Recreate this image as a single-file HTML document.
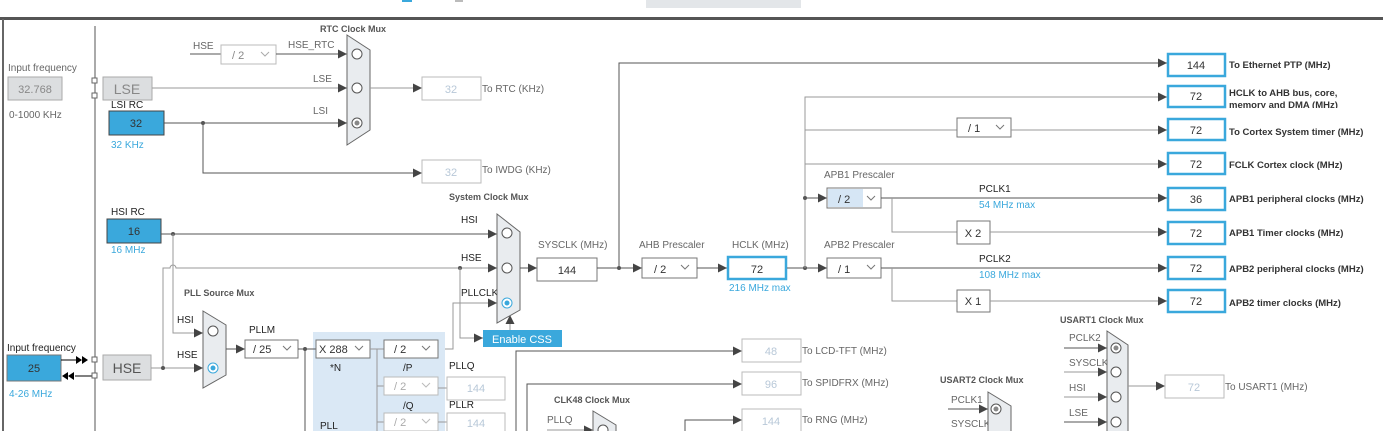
<!DOCTYPE html>
<html><head><meta charset="utf-8"><style>
html,body{margin:0;padding:0;background:#fff;width:1383px;height:431px;overflow:hidden}
svg{display:block}
text{font-family:"Liberation Sans",sans-serif;font-size:10px;fill:#666}
.b{font-weight:bold;fill:#555}
.k{fill:#222}
.bl{fill:#3aa8dc}
.lt{fill:#b8c8d8;font-size:11px}
.v{font-size:11px;fill:#333}
.o{font-weight:bold;fill:#333;font-size:9.5px}
.ln{stroke:#555;stroke-width:1;fill:none}
.gl{stroke:#999;stroke-width:1;fill:none}
.bx{fill:#fff;stroke:#777;stroke-width:1}
.lb{fill:#fff;stroke:#bbb;stroke-width:1}
.ob{fill:#fff;stroke:#3aa8dc;stroke-width:2.5}
.mx{fill:#e9ecef;stroke:#666;stroke-width:1}
.c{fill:#fff;stroke:#555;stroke-width:1}
</style></head><body>
<svg width="1383" height="431" viewBox="0 0 1383 431" xmlns="http://www.w3.org/2000/svg">
<defs>
<marker id="a" viewBox="0 0 10 10" refX="10" refY="5" markerWidth="9" markerHeight="9" markerUnits="userSpaceOnUse" orient="auto"><path d="M0,0L10,5L0,10z" fill="#444"/></marker>
</defs>
<rect x="646" y="0" width="155" height="8" fill="#e3e6e9"/>
<rect x="402" y="0" width="10" height="2" fill="#3aa8dc"/>
<rect x="455" y="0" width="8" height="2" fill="#bbb"/>
<rect x="0" y="17" width="1383" height="3" fill="#555"/>
<rect x="2" y="19" width="2" height="412" fill="#666"/>
<line x1="95" y1="26" x2="95" y2="431" class="ln"/>

<text x="8" y="71">Input frequency</text>
<rect x="8" y="77" width="54" height="23" fill="#dcdee0" stroke="#aaa"/>
<text x="35" y="93" text-anchor="middle" style="font-size:11px;fill:#888">32.768</text>
<text x="9" y="118">0-1000 KHz</text>
<rect x="92" y="78" width="5" height="5" fill="#fff" stroke="#666"/>
<rect x="92" y="93" width="5" height="5" fill="#fff" stroke="#666"/>
<rect x="103" y="77" width="49" height="23" fill="#dcdee0" stroke="#aaa"/>
<text x="127" y="94" text-anchor="middle" style="font-size:14px;fill:#888">LSE</text>
<text x="111" y="108" class="k">LSI RC</text>
<rect x="109" y="111" width="55" height="24" fill="#3aa8dc" stroke="#444"/>
<text x="136" y="127" text-anchor="middle" class="v">32</text>
<text x="111" y="148" class="bl">32 KHz</text>

<text x="320" y="32" class="b" style="font-size:9px">RTC Clock Mux</text>
<text x="193" y="49">HSE</text>
<line x1="190" y1="54" x2="221" y2="54" class="ln"/>
<rect x="221" y="45" width="55" height="19" class="lb"/>
<text x="232" y="59" style="font-size:11px;fill:#888">/ 2</text>
<path d="M261,52l4,4l4,-4" stroke="#aaa" fill="none"/>
<text x="288" y="48">HSE_RTC</text>
<line x1="276" y1="54" x2="347" y2="54" class="ln" marker-end="url(#a)"/>
<text x="313" y="82">LSE</text>
<line x1="152" y1="88" x2="347" y2="88" class="gl" marker-end="url(#a)"/>
<text x="313" y="114">LSI</text>
<line x1="164" y1="123" x2="347" y2="123" class="ln" marker-end="url(#a)"/>
<circle cx="203" cy="123" r="2" fill="#555"/>
<path d="M203,123V173H422" class="ln" marker-end="url(#a)"/>
<path d="M347,35L370,50V130L347,145Z" class="mx"/>
<circle cx="357" cy="54" r="5" class="c"/>
<circle cx="357" cy="88" r="5" class="c"/>
<circle cx="357" cy="123" r="5" class="c"/><circle cx="357" cy="123" r="2.5" fill="#888"/>
<line x1="370" y1="88" x2="422" y2="88" class="gl" marker-end="url(#a)"/>
<rect x="422" y="77" width="59" height="23" class="lb"/>
<text x="451" y="93" text-anchor="middle" class="lt">32</text>
<text x="482" y="92">To RTC (KHz)</text>
<rect x="422" y="160" width="59" height="23" class="lb"/>
<text x="451" y="176" text-anchor="middle" class="lt">32</text>
<text x="482" y="173">To IWDG (KHz)</text>

<text x="449" y="200" class="b" style="font-size:9px">System Clock Mux</text>
<text x="111" y="215" class="k">HSI RC</text>
<rect x="107" y="219" width="54" height="24" fill="#3aa8dc" stroke="#444"/>
<text x="134" y="235" text-anchor="middle" class="v">16</text>
<text x="111" y="253" class="bl">16 MHz</text>
<text x="461" y="223" class="k">HSI</text>
<line x1="161" y1="234" x2="497" y2="234" class="ln" marker-end="url(#a)"/>
<circle cx="173" cy="234" r="2" fill="#555"/>
<text x="461" y="261" class="k">HSE</text>
<path d="M163,368V268H170a3,3 0 0 1 6,0H497" class="gl" marker-end="url(#a)"/>
<circle cx="460" cy="268" r="2" fill="#555"/>
<path d="M173,234V333H203" class="gl" marker-end="url(#a)"/>
<text x="461" y="296" class="k">PLLCLK</text>
<path d="M438,349H453V303H497" class="gl" marker-end="url(#a)"/>
<path d="M460,268V338H483" class="gl" marker-end="url(#a)"/>
<rect x="483" y="330" width="79" height="17" fill="#3aa8dc"/>
<text x="522" y="343" text-anchor="middle" style="font-size:11px;fill:#fff">Enable CSS</text>
<line x1="510" y1="330" x2="510" y2="315" class="gl" marker-end="url(#a)"/>
<path d="M497,214L520,232V310L497,323Z" class="mx"/>
<circle cx="507" cy="233" r="5" class="c"/>
<circle cx="507" cy="268" r="5" class="c"/>
<circle cx="507" cy="303" r="5" style="fill:#fff;stroke:#3aa8dc"/><circle cx="507" cy="303" r="2.5" fill="#3aa8dc"/>
<line x1="520" y1="268" x2="537" y2="268" class="ln" marker-end="url(#a)"/>
<text x="538" y="248">SYSCLK (MHz)</text>
<rect x="537" y="258" width="60" height="23" class="bx"/>
<text x="567" y="274" text-anchor="middle" class="v">144</text>

<line x1="597" y1="268" x2="642" y2="268" class="ln" marker-end="url(#a)"/>
<circle cx="619" cy="268" r="2" fill="#555"/>
<path d="M619,268V63H1167" class="ln" marker-end="url(#a)"/>
<text x="639" y="248">AHB Prescaler</text>
<rect x="642" y="258" width="55" height="20" class="bx"/>
<text x="654" y="273" class="v">/ 2</text>
<path d="M681,265l4,4l4,-4" stroke="#777" fill="none"/>
<line x1="697" y1="268" x2="727" y2="268" class="ln" marker-end="url(#a)"/>
<text x="732" y="248">HCLK (MHz)</text>
<rect x="728" y="257" width="58" height="22" class="ob"/>
<text x="757" y="273" text-anchor="middle" class="v">72</text>
<text x="729" y="291" class="bl">216 MHz max</text>
<line x1="787" y1="268" x2="827" y2="268" class="ln" marker-end="url(#a)"/>
<circle cx="805" cy="268" r="2" fill="#555"/>
<path d="M805,268V97H1167" class="gl" marker-end="url(#a)"/>
<line x1="805" y1="130" x2="957" y2="130" class="gl"/>
<rect x="957" y="118" width="54" height="19" class="bx"/>
<text x="968" y="132" class="v">/ 1</text>
<path d="M996,125l4,4l4,-4" stroke="#777" fill="none"/>
<line x1="1011" y1="130" x2="1167" y2="130" class="gl" marker-end="url(#a)"/>
<line x1="805" y1="164" x2="1167" y2="164" class="gl" marker-end="url(#a)"/>
<line x1="805" y1="198" x2="827" y2="198" class="ln" marker-end="url(#a)"/>
<circle cx="805" cy="198" r="2" fill="#555"/>
<text x="824" y="178">APB1 Prescaler</text>
<rect x="827" y="188" width="54" height="20" class="bx"/>
<rect x="828" y="189" width="35" height="18" fill="#d6e6f5"/>
<text x="838" y="203" class="v">/ 2</text>
<path d="M867,196l4,4l4,-4" stroke="#777" fill="none"/>
<line x1="881" y1="198" x2="1167" y2="198" class="ln" marker-end="url(#a)"/>
<text x="979" y="192" class="k">PCLK1</text>
<text x="979" y="208" class="bl">54 MHz max</text>
<path d="M892,198V232H957" class="gl"/>
<rect x="957" y="221" width="33" height="23" class="bx"/>
<text x="973" y="237" text-anchor="middle" class="v">X 2</text>
<line x1="990" y1="232" x2="1167" y2="232" class="gl" marker-end="url(#a)"/>
<text x="824" y="248">APB2 Prescaler</text>
<rect x="827" y="258" width="54" height="20" class="bx"/>
<text x="838" y="273" class="v">/ 1</text>
<path d="M867,265l4,4l4,-4" stroke="#777" fill="none"/>
<line x1="881" y1="268" x2="1167" y2="268" class="ln" marker-end="url(#a)"/>
<text x="979" y="262" class="k">PCLK2</text>
<text x="979" y="278" class="bl">108 MHz max</text>
<path d="M892,268V301H957" class="gl"/>
<rect x="957" y="290" width="33" height="22" class="bx"/>
<text x="973" y="305" text-anchor="middle" class="v">X 1</text>
<line x1="990" y1="301" x2="1167" y2="301" class="gl" marker-end="url(#a)"/>

<g>
<rect x="1168" y="54" width="57" height="22" class="ob"/><text x="1196" y="69" text-anchor="middle" class="v">144</text><text x="1229" y="68" class="o">To Ethernet PTP (MHz)</text>
<rect x="1168" y="86" width="57" height="21" class="ob"/><text x="1196" y="100" text-anchor="middle" class="v">72</text><text x="1229" y="96" class="o">HCLK to AHB bus, core,</text>
<svg x="1229" y="100" width="150" height="8"><text x="0" y="8" class="o">memory and DMA (MHz)</text></svg>
<rect x="1168" y="119" width="57" height="21" class="ob"/><text x="1196" y="134" text-anchor="middle" class="v">72</text><text x="1229" y="135" class="o">To Cortex System timer (MHz)</text>
<rect x="1168" y="153" width="57" height="21" class="ob"/><text x="1196" y="168" text-anchor="middle" class="v">72</text><text x="1229" y="168" class="o">FCLK Cortex clock (MHz)</text>
<rect x="1168" y="188" width="57" height="22" class="ob"/><text x="1196" y="203" text-anchor="middle" class="v">36</text><text x="1229" y="202" class="o">APB1 peripheral clocks (MHz)</text>
<rect x="1168" y="222" width="57" height="22" class="ob"/><text x="1196" y="237" text-anchor="middle" class="v">72</text><text x="1229" y="236" class="o">APB1 Timer clocks (MHz)</text>
<rect x="1168" y="257" width="57" height="22" class="ob"/><text x="1196" y="272" text-anchor="middle" class="v">72</text><text x="1229" y="272" class="o">APB2 peripheral clocks (MHz)</text>
<rect x="1168" y="290" width="57" height="22" class="ob"/><text x="1196" y="305" text-anchor="middle" class="v">72</text><text x="1229" y="306" class="o">APB2 timer clocks (MHz)</text>
</g>

<text x="7" y="351" class="k">Input frequency</text>
<rect x="7" y="355" width="54" height="26" fill="#3aa8dc" stroke="#777"/>
<text x="34" y="372" text-anchor="middle" class="v">25</text>
<text x="9" y="397" class="bl">4-26 MHz</text>
<line x1="61" y1="360" x2="78" y2="360" stroke="#000"/>
<path d="M76,356l6,4l-6,4zM82,356l6,4l-6,4z" fill="#000"/>
<line x1="75" y1="376" x2="92" y2="376" stroke="#000"/>
<path d="M68,376l6,-4v8zM62,376l6,-4v8z" fill="#000"/>
<rect x="92" y="357" width="5" height="5" fill="#fff" stroke="#666"/>
<rect x="92" y="373" width="5" height="5" fill="#fff" stroke="#666"/>
<rect x="103" y="355" width="48" height="25" fill="#dcdee0" stroke="#aaa"/>
<text x="127" y="373" text-anchor="middle" style="font-size:14px;fill:#555">HSE</text>
<line x1="151" y1="368" x2="203" y2="368" class="gl" marker-end="url(#a)"/>
<circle cx="163" cy="368" r="2" fill="#555"/>
<text x="184" y="296" class="b" style="font-size:9px">PLL Source Mux</text>
<text x="177" y="323" class="k">HSI</text>
<text x="177" y="358" class="k">HSE</text>
<path d="M203,311L226,325V375L203,388Z" class="mx"/>
<circle cx="213" cy="331" r="5" class="c"/>
<circle cx="213" cy="368" r="5" style="fill:#fff;stroke:#3aa8dc"/><circle cx="213" cy="368" r="2.5" fill="#3aa8dc"/>
<line x1="226" y1="349" x2="245" y2="349" class="ln" marker-end="url(#a)"/>
<text x="249" y="333" class="k">PLLM</text>
<rect x="245" y="340" width="53" height="18" class="bx"/>
<text x="253" y="353" class="v">/ 25</text>
<path d="M283,346l4,4l4,-4" stroke="#777" fill="none"/>
<rect x="313" y="332" width="132" height="99" fill="#dae8f5"/>
<line x1="298" y1="349" x2="316" y2="349" class="ln"/>
<circle cx="305" cy="349" r="2" fill="#555"/>
<line x1="305" y1="349" x2="305" y2="431" class="ln"/>
<rect x="316" y="340" width="54" height="18" class="bx"/>
<text x="319" y="353" class="v">X 288</text>
<path d="M355,346l4,4l4,-4" stroke="#777" fill="none"/>
<text x="330" y="371" class="k">*N</text>
<text x="320" y="429" class="k">PLL</text>
<path d="M370,349H384M377,349V431M377,386H384M377,422H384" class="gl"/>
<rect x="384" y="340" width="54" height="18" class="bx"/>
<text x="394" y="353" class="v">/ 2</text>
<path d="M422,346l4,4l4,-4" stroke="#777" fill="none"/>
<text x="403" y="371" class="k">/P</text>
<rect x="384" y="377" width="54" height="18" class="lb"/>
<text x="394" y="390" style="font-size:11px;fill:#aaa">/ 2</text>
<path d="M422,383l4,4l4,-4" stroke="#bbb" fill="none"/>
<text x="403" y="409" class="k">/Q</text>
<rect x="384" y="413" width="54" height="18" class="lb"/>
<text x="394" y="426" style="font-size:11px;fill:#aaa">/ 2</text>
<path d="M422,419l4,4l4,-4" stroke="#bbb" fill="none"/>
<line x1="438" y1="388" x2="447" y2="388" class="gl"/>
<line x1="438" y1="422" x2="447" y2="422" class="gl"/>
<text x="449" y="369" class="k">PLLQ</text>
<rect x="447" y="377" width="58" height="23" class="lb"/>
<text x="476" y="392" text-anchor="middle" class="lt">144</text>
<text x="449" y="408" class="k">PLLR</text>
<rect x="447" y="413" width="58" height="23" class="lb"/>
<text x="476" y="427" text-anchor="middle" class="lt">144</text>

<path d="M516,431V351H742" class="ln" marker-end="url(#a)"/>
<path d="M527,431V384H742" class="ln" marker-end="url(#a)"/>
<path d="M685,431V420H742" class="ln" marker-end="url(#a)"/>
<rect x="742" y="339" width="59" height="23" class="lb"/><text x="771" y="355" text-anchor="middle" class="lt">48</text><text x="802" y="354">To LCD-TFT (MHz)</text>
<rect x="742" y="372" width="59" height="23" class="lb"/><text x="771" y="388" text-anchor="middle" class="lt">96</text><text x="802" y="386">To SPIDFRX (MHz)</text>
<rect x="742" y="409" width="59" height="23" class="lb"/><text x="771" y="425" text-anchor="middle" class="lt">144</text><text x="802" y="423">To RNG (MHz)</text>
<text x="554" y="403" class="b" style="font-size:9px">CLK48 Clock Mux</text>
<text x="547" y="423">PLLQ</text>
<line x1="547" y1="430" x2="593" y2="430" class="gl" marker-end="url(#a)"/>
<path d="M593,411L616,425V440L593,440Z" class="mx"/>
<circle cx="603" cy="430" r="5" class="c"/>

<text x="940" y="383" class="b" style="font-size:9px">USART2 Clock Mux</text>
<text x="951" y="403">PCLK1</text>
<line x1="948" y1="409" x2="988" y2="409" class="ln" marker-end="url(#a)"/>
<text x="951" y="427">SYSCLK</text>
<path d="M988,392L1011,406V440L988,440Z" class="mx"/>
<circle cx="996" cy="409" r="5" class="c"/><circle cx="996" cy="409" r="2.5" fill="#888"/>

<text x="1060" y="323" class="b" style="font-size:9px">USART1 Clock Mux</text>
<text x="1069" y="341">PCLK2</text>
<line x1="1064" y1="348" x2="1107" y2="348" class="ln" marker-end="url(#a)"/>
<text x="1069" y="366">SYSCLK</text>
<line x1="1064" y1="372" x2="1107" y2="372" class="gl" marker-end="url(#a)"/>
<text x="1069" y="391">HSI</text>
<line x1="1064" y1="397" x2="1107" y2="397" class="gl" marker-end="url(#a)"/>
<text x="1069" y="416">LSE</text>
<line x1="1064" y1="422" x2="1107" y2="422" class="ln" marker-end="url(#a)"/>
<path d="M1107,331L1128,345V440L1107,440Z" class="mx"/>
<circle cx="1116" cy="348" r="5" class="c"/><circle cx="1116" cy="348" r="2.5" fill="#888"/>
<circle cx="1116" cy="372" r="5" class="c"/>
<circle cx="1116" cy="397" r="5" class="c"/>
<circle cx="1116" cy="422" r="5" class="c"/>
<line x1="1128" y1="386" x2="1165" y2="386" class="gl" marker-end="url(#a)"/>
<rect x="1165" y="375" width="59" height="23" class="lb"/>
<text x="1194" y="391" text-anchor="middle" class="lt">72</text>
<text x="1225" y="390">To USART1 (MHz)</text>
</svg>
</body></html>
